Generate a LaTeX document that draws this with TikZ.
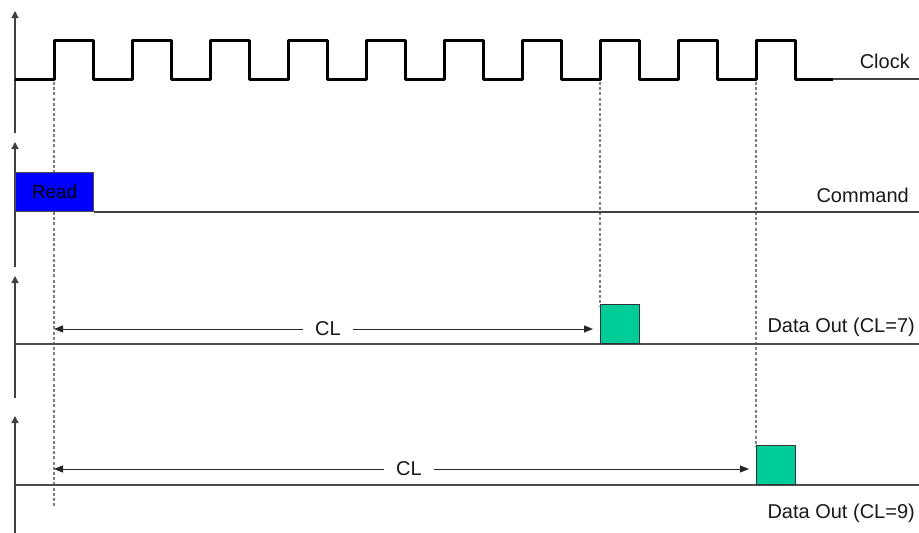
\documentclass[tikz,border=0pt]{standalone}
\usepackage{fontspec}
\setmainfont{Liberation Sans}
\usetikzlibrary{arrows.meta}
\begin{document}
\begin{tikzpicture}[x=1pt,y=-1pt,
  axis/.style={draw=black!75, line width=1.3pt, -{Triangle[length=7pt,width=7pt]}},
  clk/.style={draw=black, line width=3pt, line join=round},
  sig/.style={draw=black!70, line width=1.6pt},
  thin/.style={draw=black!75, line width=1.2pt},
  guide/.style={draw=black!50, line width=1.3pt, dash pattern=on 3pt off 2.2pt},
  dim/.style={draw=black!85, line width=1pt, -{Triangle[length=9pt,width=7pt]}},
  txt/.style={font=\fontsize{20}{24}\selectfont, text=black!90, inner sep=0pt},
  lbl/.style={txt, anchor=base east},
  databox/.style={draw=black!80, line width=1.2pt, fill={rgb,255:red,0;green,204;blue,153}, minimum width=39pt, minimum height=39pt, inner sep=0pt, anchor=south west},
  cmdbox/.style={draw=black!70, line width=1.2pt, fill={rgb,255:red,0;green,0;blue,255}, minimum width=78pt, minimum height=39pt, inner sep=0pt, anchor=south west, font=\fontsize{19}{23}\selectfont}
]
\path[use as bounding box, fill=white] (0,0) rectangle (919,533);

% axes
\coordinate (ax1b) at (15,133); \coordinate (ax1t) at (15,11);
\coordinate (ax2b) at (15,267); \coordinate (ax2t) at (15,142);
\coordinate (ax3b) at (15,398); \coordinate (ax3t) at (15,276);
\coordinate (ax4b) at (15,533); \coordinate (ax4t) at (15,416);
\draw[axis] (ax1b) -- (ax1t);
\draw[axis] (ax2b) -- (ax2t);
\draw[axis] (ax3b) -- (ax3t);
\draw[axis] (ax4b) -- (ax4t);

% guides (behind boxes)
\coordinate (g1t) at (54,82); \coordinate (g1b) at (54,507);
\coordinate (g2t) at (600,82); \coordinate (g2b) at (600,306);
\coordinate (g3t) at (756,82); \coordinate (g3b) at (756,447);
\draw[guide] (g1t) -- (g1b);
\draw[guide] (g2t) -- (g2b);
\draw[guide] (g3t) -- (g3b);

% clock
\draw[clk] (15,79)
  \foreach \i in {0,...,9} { -- ({54+78*\i},79) -- ({54+78*\i},40) -- ({93+78*\i},40) -- ({93+78*\i},79) }
  -- (833,79);
\coordinate (ce) at (833,79); \coordinate (cr) at (919,79);
\draw[thin] (ce) -- (cr);
\node[lbl] (clock) at (910,68) {Clock};

% command
\node[cmdbox] (read) at (15,212) {Read};
\coordinate (cmdr) at (919,212);
\draw[thin] (read.south east) -- (cmdr);
\node[lbl] (command) at (909,202) {Command};

% data out CL=7
\coordinate (d7l) at (15,344); \coordinate (d7r) at (919,344);
\draw[sig] (d7l) -- (d7r);
\node[databox] (b7) at (600,344) {};
\node[lbl] (lab7) at (915,332) {Data Out (CL=7)};
\node[txt, inner xsep=12pt] (cl7) at (328,329) {CL};
\coordinate (cl7l) at (54,329); \coordinate (cl7r) at (593,329);
\draw[dim] (cl7.west) -- (cl7l);
\draw[dim] (cl7.east) -- (cl7r);

% data out CL=9
\coordinate (d9l) at (15,485); \coordinate (d9r) at (919,485);
\draw[sig] (d9l) -- (d9r);
\node[databox] (b9) at (756,485) {};
\node[lbl] (lab9) at (915,518) {Data Out (CL=9)};
\node[txt, inner xsep=12pt] (cl9) at (409,469) {CL};
\coordinate (cl9l) at (54,469); \coordinate (cl9r) at (749,469);
\draw[dim] (cl9.west) -- (cl9l);
\draw[dim] (cl9.east) -- (cl9r);
\end{tikzpicture}
\end{document}
